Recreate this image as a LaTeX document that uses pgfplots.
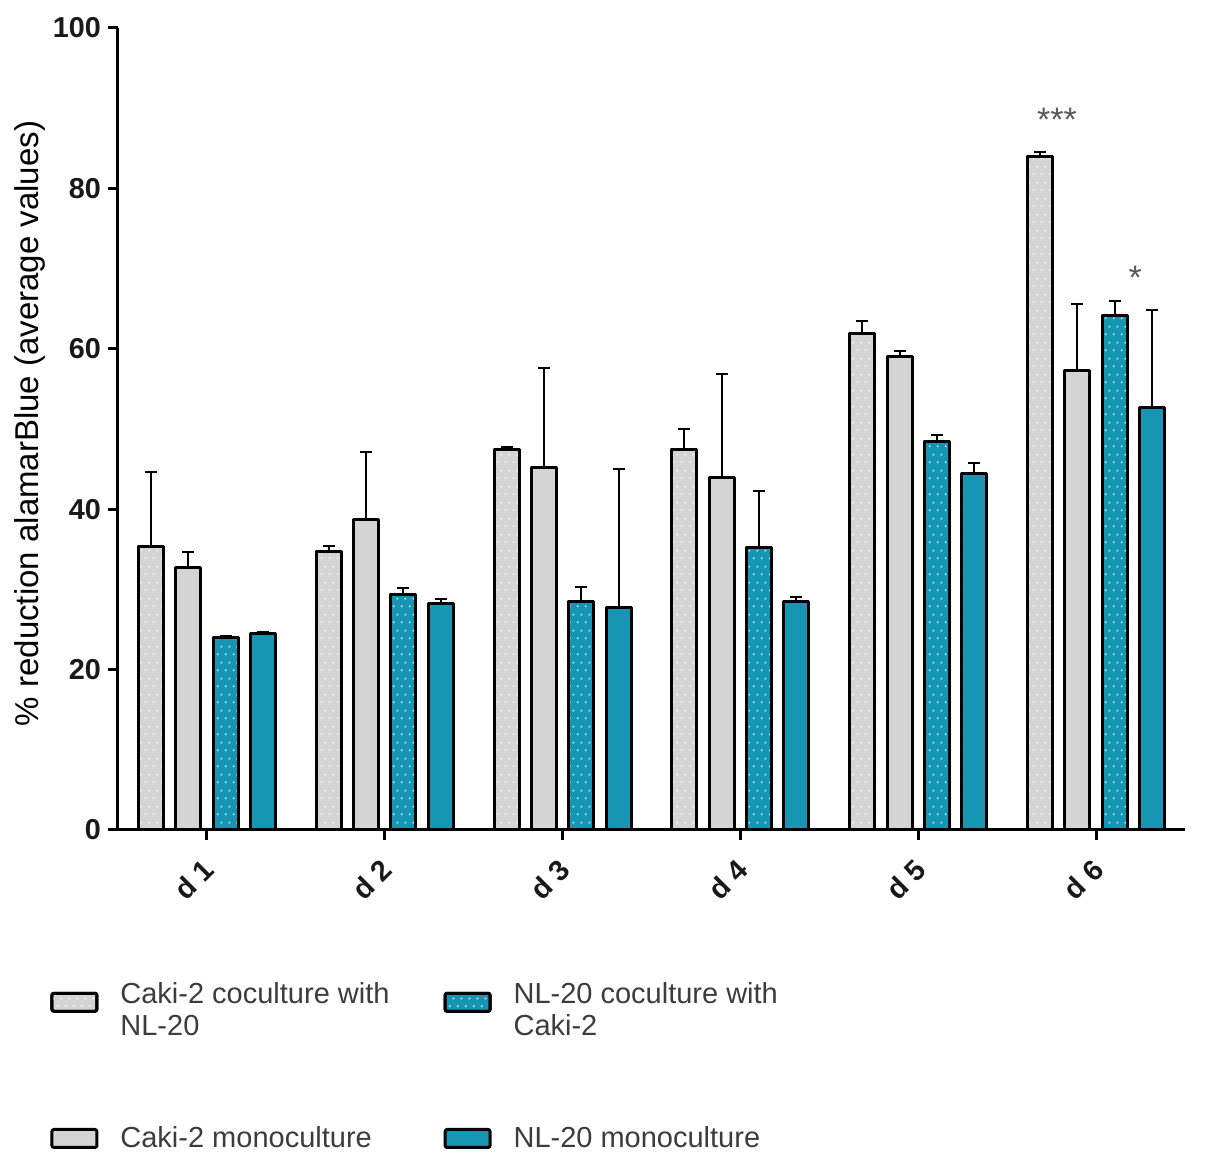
\documentclass[border=0pt]{standalone}
\usepackage{pgfplots}
\usepackage{pgfplotstable}
\pgfplotsset{compat=1.18}
\usepackage{fontspec}
\setmainfont{Liberation Sans}
\usetikzlibrary{patterns.meta}
\definecolor{barteal}{RGB}{22,150,178}
\definecolor{bargray}{RGB}{212,212,212}
\definecolor{dotteal}{RGB}{160,222,234}
\definecolor{dotgray}{RGB}{242,242,242}
\definecolor{legtext}{RGB}{60,60,60}
\pgfdeclarepattern{
  name=bardots,
  type=uncolored,
  bottom left={\pgfpoint{0pt}{0pt}},
  top right={\pgfpoint{4pt}{8pt}},
  tile size={\pgfpoint{4pt}{8pt}},
  code={
    \pgfpathcircle{\pgfpoint{1pt}{2pt}}{0.65pt}
    \pgfpathcircle{\pgfpoint{3pt}{6pt}}{0.65pt}
    \pgfusepath{fill}
  }
}
\pgfplotstableread{
x y e
0 35.3 9.3
1 34.7 0.7
2 47.5 0.3
3 47.5 2.5
4 61.9 1.6
5 84.0 0.5
}\sA
\pgfplotstableread{
x y e
0 32.7 2.0
1 38.7 8.4
2 45.2 12.4
3 43.9 13.0
4 59.1 0.6
5 57.3 8.3
}\sB
\pgfplotstableread{
x y e
0 24.0 0.2
1 29.4 0.8
2 28.5 1.8
3 35.2 7.1
4 48.5 0.8
5 64.2 1.7
}\sC
\pgfplotstableread{
x y e
0 24.5 0.2
1 28.3 0.5
2 27.8 17.2
3 28.5 0.5
4 44.5 1.2
5 52.7 12.1
}\sD
\newcommand\lgfont{\fontsize{14.5}{16}\selectfont}
\begin{document}
\begin{tikzpicture}
\path[use as bounding box] (-59pt,-170pt) rectangle (543.5pt,415pt);
\begin{axis}[
  scale only axis, width=533.5pt, height=401pt,
  xmin=-0.5, xmax=5.5, ymin=0, ymax=100,
  ybar=6.22pt, bar width=0.14,
  axis x line=bottom, axis y line=left,
  axis line style={-, line width=1.5pt, black},
  xtick={0,...,5}, xticklabels={d 1,d 2,d 3,d 4,d 5,d 6},
  ytick={0,20,...,100},
  tick align=outside, major tick length=5pt,
  tick style={line width=1.5pt, black},
  /pgf/number format/assume math mode=true,
  tick label style={font=\fontsize{14.4}{17}\selectfont\bfseries, text=black!90},
  xticklabel style={xshift=3.5pt, yshift=-10pt, rotate=45, anchor=east},
  ylabel={\% reduction alamarBlue (average values)},
  ylabel style={at={(axis description cs:-0.0825,0.507)}, anchor=center, font=\fontsize{16.5}{19}\selectfont},
  legend columns=2, transpose legend, legend cell align=left,
  legend style={at={(axis description cs:-0.0637,-0.188)}, anchor=north west,
    draw=none, fill=none, inner sep=0pt, font=\lgfont, text=legtext,
    nodes={inner sep=0pt},
    /tikz/every odd column/.style={column sep=11pt},
    /tikz/every even column/.style={column sep=27pt},
    row sep=51pt},
  barstyle/.style={draw=black, line width=1.5pt, line join=round,
    legend image code/.code={\draw[##1, line width=1.5pt, rounded corners=1pt] (0pt,-4.5pt) rectangle (22.5pt,4.5pt);},
    error bars/y dir=plus, error bars/y explicit,
    error bars/error bar style={line width=1pt, black},
    error bars/error mark options={rotate=90, line width=1pt, mark size=3pt, black}},
]
\addplot[barstyle, fill=bargray, postaction={pattern=bardots, pattern color=dotgray}]
  table[x=x, y=y, y error=e]{\sA};
\addlegendentry{\begin{tabular}{@{}l@{}}Caki-2 coculture with\\NL-20\end{tabular}}
\addplot[barstyle, fill=bargray]
  table[x=x, y=y, y error=e]{\sB};
\addlegendentry{\begin{tabular}{@{}l@{}}Caki-2 monoculture\end{tabular}}
\addplot[barstyle, fill=barteal, postaction={pattern=bardots, pattern color=dotteal}]
  table[x=x, y=y, y error=e]{\sC};
\addlegendentry{\begin{tabular}{@{}l@{}}NL-20 coculture with\\Caki-2\end{tabular}}
\addplot[barstyle, fill=barteal]
  table[x=x, y=y, y error=e]{\sD};
\addlegendentry{\begin{tabular}{@{}l@{}}NL-20 monoculture\end{tabular}}
\node[font=\fontsize{17}{20}\selectfont, text=black!65] at (axis cs:4.78,88.6) {***};
\node[font=\fontsize{17}{20}\selectfont, text=black!65] at (axis cs:5.22,68.9) {*};
\end{axis}
\end{tikzpicture}
\end{document}
